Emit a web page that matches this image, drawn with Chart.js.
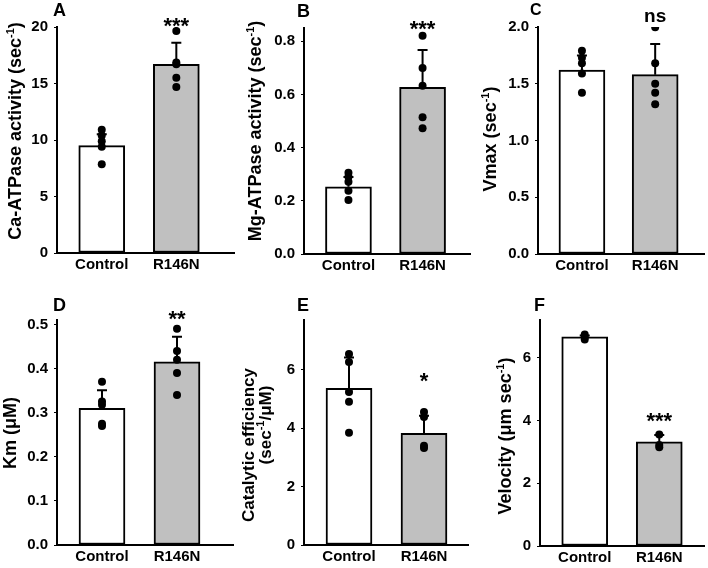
<!DOCTYPE html>
<html>
<head>
<meta charset="utf-8">
<script src="https://cdn.jsdelivr.net/npm/chart.js@4.4.1/dist/chart.umd.min.js"></script>
<style>
body{margin:0;background:#fff;}
#fig{position:relative;width:708px;height:568px;overflow:hidden;font-family:"Liberation Sans",Arial,sans-serif;}
canvas{position:absolute;}
.tag{position:absolute;font-weight:bold;font-size:18px;line-height:18px;color:#000;}
</style>
</head>
<body>
<div id="fig">
  <canvas id="pA"></canvas><canvas id="pB"></canvas><canvas id="pC"></canvas>
  <canvas id="pD"></canvas><canvas id="pE"></canvas><canvas id="pF"></canvas>
  <div class="tag" style="left:53px;top:1px">A</div>
  <div class="tag" style="left:297px;top:2px">B</div>
  <div class="tag" style="left:530px;top:1px;font-size:16px">C</div>
  <div class="tag" style="left:53px;top:296px">D</div>
  <div class="tag" style="left:297px;top:296px">E</div>
  <div class="tag" style="left:534px;top:296px">F</div>
</div>
<script>
const groups = ["Control", "R146N"];

// A - Ca-ATPase activity
const caMean = [9.5, 16.7];
const caSD = [1.0, 1.9];
const caPts = [[10.9, 10.4, 9.9, 9.4, 7.85], [19.65, 16.85, 16.7, 15.5, 14.7]];

// B - Mg-ATPase activity
const mgMean = [0.253, 0.627];
const mgSD = [0.037, 0.14];
const mgPts = [[0.306, 0.291, 0.272, 0.238, 0.203], [0.821, 0.70, 0.633, 0.514, 0.473]];

// C - Vmax
const vmaxMean = [1.62, 1.58];
const vmaxSD = [0.13, 0.27];
const vmaxPts = [[1.79, 1.73, 1.68, 1.59, 1.42], [1.997, 1.68, 1.50, 1.42, 1.32]];

// D - Km
const kmMean = [0.31, 0.415];
const kmSD = [0.041, 0.057];
const kmPts = [[0.37, 0.325, 0.318, 0.275, 0.27], [0.49, 0.44, 0.42, 0.39, 0.34]];

// E - catalytic efficiency
const effMean = [5.36, 3.82];
const effSD = [1.06, 0.6];
const effPts = [[6.54, 6.26, 5.24, 4.9, 3.84], [4.55, 4.38, 3.40, 3.32]];

// F - velocity
const velMean = [6.66, 3.32];
const velSD = [0.05, 0.22];
const velPts = [[6.74, 6.66, 6.58], [3.55, 3.22, 3.15]];

const FONT = '"Liberation Sans", Arial, sans-serif';
Chart.defaults.font.family = FONT;
Chart.defaults.color = '#000';

function drawRotated(ctx, line, x, cy, size) {
  const parts = line.split('^');
  const big = `bold ${size}px ${FONT}`;
  const small = `bold ${Math.round(size * 0.62)}px ${FONT}`;
  let total = 0;
  parts.forEach((p, i) => { ctx.font = i % 2 ? small : big; total += ctx.measureText(p).width; });
  ctx.save();
  ctx.translate(x, cy);
  ctx.rotate(-Math.PI / 2);
  ctx.textAlign = 'left';
  ctx.textBaseline = 'alphabetic';
  ctx.fillStyle = '#000';
  let pos = -total / 2;
  parts.forEach((p, i) => {
    ctx.font = i % 2 ? small : big;
    ctx.fillText(p, pos, i % 2 ? -size * 0.4 : 0);
    pos += ctx.measureText(p).width;
  });
  ctx.restore();
}

const extras = {
  id: 'extras',
  afterDatasetDraw(chart, args, opts) {
    if (args.index !== 0) return;
    const ctx = chart.ctx, xs = chart.scales.x, ys = chart.scales.y;
    const means = chart.data.datasets[0].data;
    ctx.save();
    ctx.strokeStyle = '#000';
    ctx.lineWidth = 2;
    means.forEach((m, i) => {
      const x = xs.getPixelForValue(m.x);
      const y0 = ys.getPixelForValue(m.y);
      const y1 = ys.getPixelForValue(m.y + opts.sd[i]);
      ctx.beginPath();
      ctx.moveTo(x, y0); ctx.lineTo(x, y1);
      ctx.moveTo(x - 5, y1); ctx.lineTo(x + 5, y1);
      ctx.stroke();
    });
    ctx.restore();
  },
  afterDraw(chart, args, opts) {
    const ctx = chart.ctx, xs = chart.scales.x, ys = chart.scales.y;
    opts.title.lines.forEach((l, i) => drawRotated(ctx, l, opts.title.x[i], opts.title.y[i], opts.title.size));
    const s = opts.sig;
    ctx.save();
    ctx.font = `bold ${s.size}px ${FONT}`;
    ctx.fillStyle = '#000';
    ctx.textAlign = 'center';
    ctx.textBaseline = 'alphabetic';
    const d = ctx.measureText(s.text).actualBoundingBoxDescent;
    ctx.fillText(s.text, xs.getPixelForValue(1), ys.getPixelForValue(s.at) - d);
    ctx.restore();
  }
};

function panel(id, means, sds, pts, c) {
  const el = document.getElementById(id);
  el.width = c.w; el.height = c.h;
  el.style.left = c.left + 'px'; el.style.top = c.top + 'px';
  const yw = c.axisX - c.left;
  const xh = c.top + c.h - c.bottom;
  const xmax = (c.right - c.axisX) / 75 - 0.6;
  const scatter = [];
  pts.forEach((arr, i) => arr.forEach(v => scatter.push({ x: i, y: v })));
  new Chart(el, {
    type: 'bar',
    data: {
      datasets: [
        {
          data: means.map((m, i) => ({ x: i, y: m })),
          backgroundColor: ['#ffffff', '#c0c0c0'],
          borderColor: '#000',
          borderWidth: 2,
          borderSkipped: false,
          barThickness: 46,
          order: 1
        },
        {
          type: 'scatter',
          data: scatter,
          showLine: false,
          pointRadius: 4,
          pointBackgroundColor: '#000',
          pointBorderWidth: 0,
          order: 0
        }
      ]
    },
    options: {
      responsive: false,
      animation: false,
      devicePixelRatio: 1,
      layout: { padding: { left: 0, top: c.axisTop - c.top, right: c.left + c.w - c.right, bottom: 0 } },
      scales: {
        x: {
          type: 'linear', min: -0.6, max: xmax, offset: false,
          afterBuildTicks: s => { s.ticks = [{ value: 0 }, { value: 1 }]; },
          afterFit: s => { s.height = xh; },
          ticks: { callback: v => groups[v], font: { size: 15, weight: 'bold' }, color: '#000', padding: 3, maxRotation: 0, autoSkip: false },
          grid: { display: false, drawTicks: false, offset: false },
          border: { display: true, color: '#000', width: 2 }
        },
        y: {
          min: 0, max: c.ymax,
          afterBuildTicks: s => {
            const t = [];
            for (let k = 0; k * c.step <= c.ymax + 1e-9; k++) t.push({ value: +(k * c.step).toFixed(6) });
            s.ticks = t;
          },
          afterFit: s => { s.width = yw; },
          ticks: { stepSize: c.step, callback: v => Number(v).toFixed(c.dec), font: { size: 15, weight: 'bold' }, color: '#000', padding: 6 },
          grid: { drawOnChartArea: false, tickLength: 3, tickColor: '#000', tickWidth: 1 },
          border: { display: true, color: '#000', width: 2 }
        }
      },
      plugins: {
        legend: { display: false },
        tooltip: { enabled: false },
        extras: { sd: sds, title: c.title, sig: c.sig }
      }
    },
    plugins: [extras]
  });
}

panel('pA', caMean, caSD, caPts, {
  left: 0, top: 0, w: 238, h: 280, axisX: 57, axisTop: 27, bottom: 253, right: 235,
  ymax: 20, step: 5, dec: 0,
  title: { lines: ['Ca-ATPase activity (sec^-1^)'], x: [21], y: [131], size: 18 },
  sig: { text: '***', at: 20.0, size: 22 }
});
panel('pB', mgMean, mgSD, mgPts, {
  left: 238, top: 0, w: 236, h: 280, axisX: 304, axisTop: 28, bottom: 254, right: 472,
  ymax: 0.85, step: 0.2, dec: 1,
  title: { lines: ['Mg-ATPase activity (sec^-1^)'], x: [23], y: [131], size: 18 },
  sig: { text: '***', at: 0.842, size: 22 }
});
panel('pC', vmaxMean, vmaxSD, vmaxPts, {
  left: 474, top: 0, w: 234, h: 280, axisX: 538, axisTop: 27, bottom: 254, right: 708,
  ymax: 2, step: 0.5, dec: 1,
  title: { lines: ['Vmax (sec^-1^)'], x: [22], y: [139], size: 18 },
  sig: { text: 'ns', at: 2.044, size: 19 }
});
panel('pD', kmMean, kmSD, kmPts, {
  left: 0, top: 280, w: 238, h: 288, axisX: 57, axisTop: 320, bottom: 545, right: 233,
  ymax: 0.51, step: 0.1, dec: 1,
  title: { lines: ['Km (μM)'], x: [16], y: [153], size: 18 },
  sig: { text: '**', at: 0.51, size: 22 }
});
panel('pE', effMean, effSD, effPts, {
  left: 238, top: 280, w: 236, h: 288, axisX: 304, axisTop: 320, bottom: 545, right: 468,
  ymax: 7.7, step: 2, dec: 0,
  title: { lines: ['Catalytic efficiency', '(sec^-1^/μM)'], x: [16, 33], y: [165, 145], size: 17 },
  sig: { text: '*', at: 5.58, size: 22 }
});
panel('pF', velMean, velSD, velPts, {
  left: 474, top: 280, w: 234, h: 288, axisX: 540, axisTop: 320, bottom: 546, right: 705,
  ymax: 7.2, step: 2, dec: 0,
  title: { lines: ['Velocity (μm sec^-1^)'], x: [37], y: [156], size: 18 },
  sig: { text: '***', at: 3.95, size: 22 }
});
</script>
</body>
</html>
